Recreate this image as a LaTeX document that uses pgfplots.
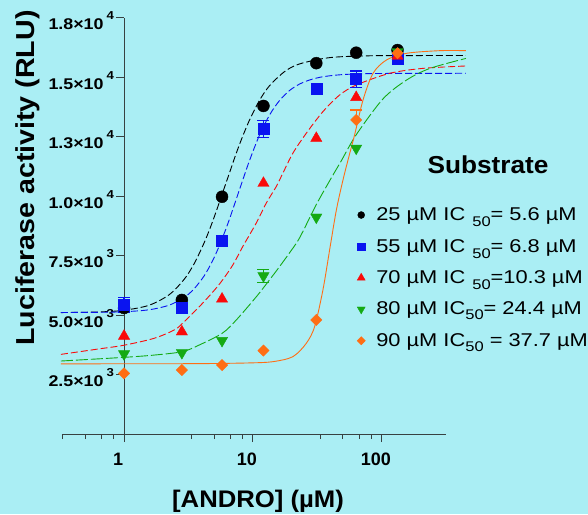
\documentclass[border=0pt]{standalone}
\usepackage{fontspec}
\setmainfont{Liberation Sans}
\newfontfamily\tickfont[FakeStretch=1.15]{Liberation Sans}
\newfontfamily\legfont[FakeStretch=1.18]{Liberation Sans}
\newfontfamily\labfont[FakeStretch=1.07]{Liberation Sans}
\newfontfamily\ylabfont[FakeStretch=1.1]{Liberation Sans}
\usepackage{pgfplots}
\pgfplotsset{compat=1.18}

\definecolor{bg}{RGB}{170,238,244}
\definecolor{cblue}{RGB}{10,20,240}
\definecolor{cred}{RGB}{250,10,10}
\definecolor{cgreen}{RGB}{20,170,20}
\definecolor{corange}{RGB}{255,110,20}
\definecolor{axisgray}{RGB}{55,65,65}

\newcommand{\yl}[2]{{\tickfont\bfseries\fontsize{15.5}{16}\selectfont #1×10\hspace{3pt}\raisebox{10pt}{\fontsize{11.5}{12}\selectfont #2}}}

\begin{document}
\begin{tikzpicture}
\fill[bg] (-62pt,-80pt) rectangle (526pt,434pt);
\useasboundingbox (-62pt,-80pt) rectangle (526pt,434pt);
\begin{axis}[
  at={(0pt,0pt)}, anchor=south west,
  scale only axis, width=384pt, height=416pt,
  xmode=log, xmin=0.33, xmax=315,
  ymin=0, ymax=17500,
  clip=false,
  axis x line=bottom, axis y line=center,
  axis line style={-, axisgray, line width=1pt},
  tick style={axisgray, line width=1pt},
  tick align=outside,
  major tick length=8pt, minor tick length=5pt,
  xtick={1,10,100}, xticklabels={1,10,100},
  minor xtick={0.333,0.5,0.667,0.833,3.33,5,6.67,8.33,33.3,50,66.7,83.3},
  xticklabel style={font=\bfseries\fontsize{18}{18}\selectfont, anchor=north, inner sep=0pt, xshift=-6pt, yshift=-11pt},
  ytick={2500,5000,7500,10000,12500,15000,17500},
  yticklabels={\yl{2.5}{3},\yl{5.0}{3},\yl{7.5}{3},\yl{1.0}{4},\yl{1.3}{4},\yl{1.5}{4},\yl{1.8}{4}},
  yticklabel style={anchor=base east, inner sep=0pt, xshift=-2pt, yshift=-12pt},
  scaled y ticks=false,
  legend style={draw=none, fill=none, inner sep=0pt, row sep=13pt,
    font=\legfont\fontsize{18.5}{20}\selectfont,
    at={(0.768,0.549)}, anchor=north west, cells={anchor=west},
    /tikz/every odd column/.append style={column sep=9pt}},
  legend cell align=left,
]
% fitted curves
\addplot[forget plot, black, line width=0.9pt, dash pattern=on 7pt off 3pt, smooth, tension=0.5] coordinates {
(0.324,5108) (0.639,5135) (1,5205) (1.565,5417) (2.240,5860) (2.930,6510) (3.505,7170) (4.194,8058) (4.754,8793) (5.292,9497) (5.893,10232) (6.563,10968) (7.308,11704) (8.137,12386) (9.393,13197) (11.23,14030) (13.44,14647) (17.59,15243) (23.01,15568) (39.38,15833) (80.65,15910) (197.6,15920) (450,15924)};
\addplot[forget plot, cblue, line width=0.9pt, dash pattern=on 7pt off 3pt, smooth, tension=0.5] coordinates {
(0.324,5111) (0.639,5120) (1,5143) (1.565,5226) (2.240,5420) (2.930,5744) (3.505,6114) (4.194,6660) (4.754,7183) (5.292,7716) (5.893,8341) (6.563,9025) (7.308,9766) (8.137,10514) (9.393,11491) (11.23,12567) (13.44,13413) (16.08,14027) (19.23,14449) (23.01,14721) (27.53,14892) (32.93,15003) (39.38,15068) (47.12,15110) (56.36,15135) (80.65,15160) (138.1,15170) (450,15174)};
\addplot[forget plot, cred, line width=0.9pt, dash pattern=on 7pt off 3pt, smooth, tension=0.5] coordinates {
(0.324,3350) (0.639,3580) (1,3735) (1.712,4026) (2.449,4375) (2.843,4657) (4.066,5499) (5.487,6300) (6.964,7100) (8.33,7880) (10.59,8864) (12.67,9706) (15.15,10404) (17.06,10968) (20.40,11809) (25.94,12651) (34.93,13560) (47.12,14262) (63.55,14683) (115.4,15174) (209.6,15382) (450,15482)};
\addplot[forget plot, cgreen, line width=0.9pt, dash pattern=on 12pt off 3pt, smooth, tension=0.5] coordinates {
(0.324,3070) (1,3225) (1.712,3320) (2.843,3465) (3.834,3744) (5.787,4240) (7.44,4800) (10.65,5780) (13.44,6480) (16.08,7040) (19.23,7620) (23.01,8250) (31.03,9650) (39.38,10650) (48.58,11500) (63.55,12600) (102.3,14100) (155.7,14890) (236.4,15380) (450,15800)};
\addplot[forget plot, corange, line width=0.9pt, smooth, tension=0.5] coordinates {
(0.324,2950) (1,2955) (3.834,2960) (9.39,2990) (14.26,3042) (20.40,3252) (25.94,3814) (30.11,4514) (34.93,6058) (39.38,7741) (44.42,9424) (49.99,10686) (56.36,11800) (61.66,12600) (71.53,14052) (85.56,15174) (108.8,15734) (155.7,16015) (282.8,16126) (450,16126)};
% measured points
\addplot[forget plot, only marks, black, mark=*, mark size=6pt] coordinates {
(1,5300) (2.81,5640) (5.76,9980) (12.07,13800) (31.03,15600) (63.3,16040) (132.5,16150)};
\addplot[forget plot, only marks, cblue, mark=square*, mark size=5.5pt] coordinates {
(2.81,5320) (5.76,8120) (31.03,14540) (132.5,15800)};
\addplot[forget plot, only marks, cblue, mark=square*, mark size=5.5pt,
  error bars/.cd, y dir=both, y explicit,
  error bar style={line width=1.2pt}, error mark options={rotate=90, mark size=6pt, line width=1.2pt}] coordinates {
(1,5430) +- (0,300) (12.07,12830) +- (0,360) (63.3,14930) +- (0,340)};
\addplot[forget plot, only marks, cred, mark=triangle*, mark size=6.5pt] coordinates {
(1,4120) (2.81,4300) (5.76,5680) (12.07,10550) (31.03,12440) (63.3,14160) (132.5,15900)};
\addplot[forget plot, only marks, cgreen, mark=triangle*, mark size=6.5pt, mark options={rotate=180}] coordinates {
(1,3370) (2.81,3420) (5.76,3930) (31.03,9120) (63.3,12020) (132.5,16080)};
\addplot[forget plot, only marks, cgreen, mark=triangle*, mark size=6.5pt, mark options={rotate=180},
  error bars/.cd, y dir=both, y explicit,
  error bar style={line width=1.2pt}, error mark options={rotate=90, mark size=6pt, line width=1.2pt}] coordinates {
(12.07,6650) +- (0,270)};
\addplot[forget plot, only marks, corange, mark=square*, mark size=4pt, mark options={rotate=45}] coordinates {
(1,2550) (2.81,2690) (5.76,2900) (12.07,3510) (31.03,4800) (132.5,16020)};
\addplot[forget plot, only marks, corange, mark=square*, mark size=4pt, mark options={rotate=45},
  error bars/.cd, y dir=plus, y explicit,
  error bar style={line width=1.2pt}, error mark options={rotate=90, mark size=6pt, line width=1.2pt}] coordinates {
(63.3,13210) +- (0,420)};
% legend
\addlegendimage{only marks, black, mark=*, mark size=3.5pt}
\addlegendentry{25 µM IC\hspace{7pt}\raisebox{-6pt}{\fontsize{14}{14}\selectfont 50}= 5.6 µM}
\addlegendimage{only marks, cblue, mark=square*, mark size=3.6pt}
\addlegendentry{55 µM IC\hspace{7pt}\raisebox{-6pt}{\fontsize{14}{14}\selectfont 50}= 6.8 µM}
\addlegendimage{only marks, cred, mark=triangle*, mark size=4.6pt}
\addlegendentry{70 µM IC\hspace{7pt}\raisebox{-6pt}{\fontsize{14}{14}\selectfont 50}=10.3 µM}
\addlegendimage{only marks, cgreen, mark=triangle*, mark size=4.6pt, mark options={rotate=180}}
\addlegendentry{80 µM IC\raisebox{-5pt}{\fontsize{14}{14}\selectfont 50}= 24.4 µM}
\addlegendimage{only marks, corange, mark=square*, mark size=2.9pt, mark options={rotate=45}}
\addlegendentry{90 µM IC\raisebox{-5pt}{\fontsize{14}{14}\selectfont 50} = 37.7 µM}
\end{axis}
\node[font=\labfont\bfseries\fontsize{24.5}{25}\selectfont] at (426pt,269pt) {Substrate};
\node[font=\labfont\bfseries\fontsize{24}{24}\selectfont] at (196pt,-67pt) {[ANDRO] (µM)};
\node[rotate=90, font=\ylabfont\bfseries\fontsize{26}{26}\selectfont] at (-34pt,256pt) {Luciferase activity (RLU)};
\end{tikzpicture}
\end{document}
